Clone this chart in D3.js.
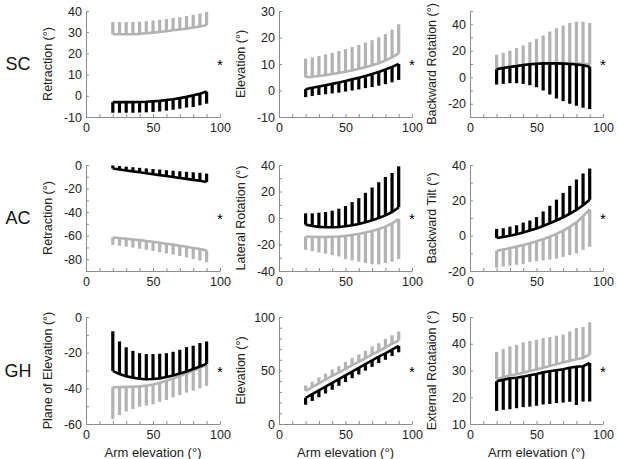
<!doctype html>
<html>
<head>
<meta charset="utf-8">
<style>
body { margin:0; background:#fff; }
svg { font-family: "Liberation Sans", Arial, sans-serif; }
</style>
<script src="https://d3js.org/d3.v7.min.js"></script>
</head>
<body>
<script>

// arm elevation samples
var armElev = [20, 25, 30, 35, 40, 45, 50, 55, 60, 65, 70, 75, 80, 85, 90];
var xTicks = [0, 50, 100];
var rowLabels = ['SC', 'AC', 'GH'];

// SC retraction
var scRetGray    = [29, 29, 29, 29, 29.2, 29.5, 29.8, 30.1, 30.5, 30.9, 31.3, 31.7, 32.2, 32.7, 33.3];
var scRetGrayErr = [5.8, 5.8, 5.8, 5.8, 5.8, 5.7, 5.7, 5.7, 5.7, 5.8, 5.8, 5.9, 6, 6.1, 6.2];
var scRetBlack    = [-3, -3, -3, -3, -2.9, -2.8, -2.6, -2.4, -2.0, -1.6, -1.1, -0.5, 0.2, 1.0, 2.0];
var scRetBlackErr = [5, 5, 5, 5, 5, 5, 5, 5, 5, 5, 5, 5, 5.5, 5.5, 5.7];

// SC elevation
var scElvGray    = [5, 5.2, 5.5, 5.8, 6.2, 6.6, 7.1, 7.6, 8.2, 8.8, 9.5, 10.3, 11.3, 12.5, 14];
var scElvGrayErr = [7, 7.3, 7.5, 7.8, 8, 8.3, 8.5, 8.8, 9, 9.3, 9.5, 9.8, 10, 10.5, 11];
var scElvBlack    = [0.5, 1, 1.5, 2, 2.5, 3, 3.6, 4.2, 4.8, 5.5, 6.2, 7, 7.9, 8.9, 10];
var scElvBlackErr = [3, 3.1, 3.2, 3.4, 3.6, 3.8, 4, 4.2, 4.4, 4.6, 4.9, 5.2, 5.5, 5.8, 6];

// SC backward rotation
var scRotGray    = [6.5, 7.3, 8, 8.7, 9.3, 9.8, 10.2, 10.5, 10.7, 10.8, 10.8, 10.7, 10.5, 10.2, 9.5];
var scRotGrayErr = [10.5, 11.2, 12, 13.3, 14.7, 16.7, 18.8, 21, 23.8, 26.2, 28.2, 30.3, 31.5, 31.8, 31.5];
var scRotBlack    = [6, 7, 7.8, 8.5, 9.2, 9.8, 10.2, 10.5, 10.6, 10.5, 10.3, 10, 9.6, 9.1, 8];
var scRotBlackErr = [11.5, 12, 12.3, 13, 14.2, 15.8, 17.7, 20.5, 23.6, 26.5, 28.3, 30, 31.1, 32.1, 32];

// AC retraction
var acRetBlack    = [-3, -3.8, -4.6, -5.4, -6.2, -7, -7.8, -8.6, -9.4, -10.2, -11, -11.8, -12.6, -13.4, -14.5];
var acRetBlackErr = [2.6, 2.9, 3.2, 3.5, 3.8, 4.1, 4.4, 4.7, 5, 5.3, 5.7, 6, 6.4, 6.8, 7.2];
var acRetGray    = [-61.5, -62, -62.6, -63.2, -63.8, -64.5, -65.2, -66, -66.8, -67.6, -68.5, -69.4, -70.4, -71.4, -72.5];
var acRetGrayErr = [6.3, 6.5, 6.7, 7, 7.3, 7.5, 7.8, 8, 8.3, 8.6, 8.8, 9.1, 9.4, 9.7, 10];

// AC lateral rotation
var acLatBlack    = [-5, -6, -6.7, -7, -7, -6.8, -6.2, -5.5, -4.5, -3.2, -1.7, 0, 2, 4.5, 8];
var acLatBlackErr = [8.5, 9.5, 10.7, 11.5, 12.5, 13.8, 15.2, 17.5, 19.5, 22.2, 24.7, 27, 29, 29.5, 31];
var acLatGray    = [-14, -14.2, -14.3, -14.3, -14.2, -14, -13.5, -12.8, -12, -11, -9.8, -8.3, -6.5, -4, -0.8];
var acLatGrayErr = [10, 10.8, 11.7, 12.7, 13.8, 15, 17.5, 19.2, 21, 23, 25.2, 26.7, 27.5, 29, 30.2];

// AC backward tilt
var acTiltBlack    = [-1.3, -0.8, 0, 0.8, 1.8, 2.9, 4.1, 5.5, 7, 8.6, 10.4, 12.4, 14.6, 17.2, 20.3];
var acTiltBlackErr = [5.1, 5, 5.1, 5.1, 5.6, 5.7, 6.4, 8.2, 9.9, 11.8, 13.8, 15.8, 17.2, 18, 17.7];
var acTiltGray    = [-8.6, -7.8, -7, -6.2, -5.3, -4.3, -3.2, -2, -0.6, 1, 2.8, 5, 7.5, 11, 14.9];
var acTiltGrayErr = [9.5, 9.7, 10, 10.3, 10.7, 10.6, 11.3, 12, 12.9, 14, 14.8, 16, 17.5, 19, 21.2];

// GH plane of elevation
var ghPlaneBlack    = [-30.2, -32, -33.2, -34, -34.6, -34.9, -34.8, -34.4, -33.7, -32.8, -31.7, -30.5, -29.2, -27.8, -26.3];
var ghPlaneBlackErr = [22.2, 18.3, 16.2, 15, 14.3, 14.1, 14, 13.8, 13.4, 13.3, 13.3, 13.6, 13.1, 13.2, 12.6];
var ghPlaneGray    = [-39.4, -39.3, -39.2, -39.1, -38.9, -38.5, -37.8, -36.9, -35.8, -34.5, -33.1, -31.6, -30.1, -28.5, -26.8];
var ghPlaneGrayErr = [17.8, 15.7, 13.8, 12.5, 11.4, 11.2, 11.2, 10.6, 10.7, 10.5, 10.6, 10.8, 11.2, 11.5, 11.8];

// GH elevation
var ghElvGray    = [31, 34.5, 38, 41.5, 45, 48, 51.5, 55, 58, 61.5, 65, 68, 71.5, 75, 78];
var ghElvGrayErr = [5, 5, 5.5, 5.5, 6, 6, 6.5, 6.5, 7, 7, 7.5, 7.5, 8, 8, 8.5];
var ghElvBlack    = [24.5, 28, 31.5, 35, 38.5, 42, 45.5, 49, 52.5, 56, 59.5, 63, 66, 69.5, 73];
var ghElvBlackErr = [6.5, 6.5, 6.5, 6.5, 6.5, 6.3, 6.3, 6.2, 6.2, 6.1, 6.1, 6, 6, 6, 6];

// GH external rotation
var ghExtGray    = [26.8, 27.5, 28.2, 28.6, 29.2, 29.8, 30.4, 31, 31.7, 32.3, 33, 33.6, 34.2, 34.7, 36];
var ghExtGrayErr = [10.1, 10.5, 10.8, 11, 11.3, 11.2, 11.1, 11.1, 10.8, 10.7, 10.4, 11, 11.7, 11.6, 12];
var ghExtBlack    = [26, 26.5, 27.1, 27.3, 27.7, 28.2, 28.7, 29.3, 29.7, 30.1, 30.5, 31, 31.4, 31.6, 32.8];
var ghExtBlackErr = [11.1, 11.2, 11.6, 11.4, 11.4, 11.7, 11.9, 12, 12.2, 12.3, 12.5, 12.7, 14.3, 13.2, 14.4];

// panel setup: label, y domain, y ticks, series [mean, err, colour, direction]
var panels = [
  {row:0, col:0, label:'Retraction (°)', dom:[-10, 40], ticks:[-10, 0, 10, 20, 30, 40],
   series:[[scRetGray, scRetGrayErr, 'gray', 1], [scRetBlack, scRetBlackErr, 'black', -1]]},
  {row:0, col:1, label:'Elevation (°)', dom:[-10, 30], ticks:[-10, 0, 10, 20, 30],
   series:[[scElvGray, scElvGrayErr, 'gray', 1], [scElvBlack, scElvBlackErr, 'black', -1]]},
  {row:0, col:2, label:'Backward Rotation (°)', dom:[-30, 50], ticks:[-20, 0, 20, 40],
   series:[[scRotGray, scRotGrayErr, 'gray', 1], [scRotBlack, scRotBlackErr, 'black', -1]]},
  {row:1, col:0, label:'Retraction (°)', dom:[-90, 0], ticks:[-80, -60, -40, -20, 0],
   series:[[acRetGray, acRetGrayErr, 'gray', -1], [acRetBlack, acRetBlackErr, 'black', 1]]},
  {row:1, col:1, label:'Lateral Rotation (°)', dom:[-40, 40], ticks:[-40, -20, 0, 20, 40],
   series:[[acLatGray, acLatGrayErr, 'gray', -1], [acLatBlack, acLatBlackErr, 'black', 1]]},
  {row:1, col:2, label:'Backward Tilt (°)', dom:[-20, 40], ticks:[-20, 0, 20, 40],
   series:[[acTiltGray, acTiltGrayErr, 'gray', -1], [acTiltBlack, acTiltBlackErr, 'black', 1]]},
  {row:2, col:0, label:'Plane of Elevation (°)', dom:[-60, 0], ticks:[-60, -40, -20, 0],
   series:[[ghPlaneGray, ghPlaneGrayErr, 'gray', -1], [ghPlaneBlack, ghPlaneBlackErr, 'black', 1]]},
  {row:2, col:1, label:'Elevation (°)', dom:[0, 100], ticks:[0, 50, 100],
   series:[[ghElvGray, ghElvGrayErr, 'gray', 1], [ghElvBlack, ghElvBlackErr, 'black', -1]]},
  {row:2, col:2, label:'External Rotataion (°)', dom:[10, 50], ticks:[10, 20, 30, 40, 50],
   series:[[ghExtGray, ghExtGrayErr, 'gray', 1], [ghExtBlack, ghExtBlackErr, 'black', -1]]}
];

var colX = [[86, 220], [279, 412], [470, 603]];
var rowY = [[11, 117], [165, 271], [317, 424]];
var colours = {gray:'#b3b3b3', black:'#000'};

var svg = d3.select('body').append('svg')
  .attr('width', 618)
  .attr('height', 459);

rowLabels.forEach(function(t, i) {
  svg.append('text')
    .attr('x', 18).attr('y', (rowY[i][0] + rowY[i][1]) / 2)
    .attr('dy', '0.35em')
    .attr('text-anchor', 'middle')
    .attr('font-size', 18)
    .attr('fill', '#111')
    .text(t);
});

panels.forEach(function(p) {
  var x0 = colX[p.col][0], x1 = colX[p.col][1];
  var yb = rowY[p.row][1], yt = rowY[p.row][0];
  var x = d3.scaleLinear().domain([0, 100]).range([x0, x1]);
  var y = d3.scaleLinear().domain(p.dom).range([yb, yt]);
  var g = svg.append('g');

  // axes, matlab style ticks pointing inward
  var xAxis = d3.axisBottom(x).tickValues(d3.range(0, 101, 10))
    .tickSizeInner(-3).tickSizeOuter(0).tickFormat(function(d) { return xTicks.indexOf(d) >= 0 ? d : ''; });
  var yAxis = d3.axisLeft(y).tickValues(d3.range(p.dom[0], p.dom[1] + 0.1, 10))
    .tickSizeInner(-3).tickSizeOuter(0).tickFormat(function(d) { return p.ticks.indexOf(d) >= 0 ? d : ''; });

  var gx = g.append('g').attr('transform', 'translate(0,' + yb + ')').call(xAxis);
  var gy = g.append('g').attr('transform', 'translate(' + x0 + ',0)').call(yAxis);
  [gx, gy].forEach(function(a) {
    a.select('.domain').attr('stroke', '#8c8c8c');
    a.selectAll('.tick line').attr('stroke', '#8c8c8c');
    a.selectAll('.tick text').attr('font-size', 12.5).attr('fill', '#222')
      .attr('font-family', '"Liberation Sans", Arial, sans-serif');
  });
  gx.selectAll('.tick text').attr('y', 6);
  gy.selectAll('.tick text').attr('x', -4);

  // mean lines + one-sided error bars
  p.series.forEach(function(s) {
    var mean = s[0], err = s[1], c = colours[s[2]], dir = s[3];
    g.selectAll(null).data(armElev).enter().append('line')
      .attr('x1', function(d) { return x(d); })
      .attr('x2', function(d) { return x(d); })
      .attr('y1', function(d, i) { return y(mean[i]); })
      .attr('y2', function(d, i) { return y(mean[i] + dir * err[i]); })
      .attr('stroke', c)
      .attr('stroke-width', 3.2);
    g.append('path')
      .datum(armElev)
      .attr('d', d3.line().x(function(d) { return x(d); }).y(function(d, i) { return y(mean[i]); }))
      .attr('fill', 'none')
      .attr('stroke', c)
      .attr('stroke-width', 2.6);
  });

  g.append('text')
    .attr('transform', 'translate(' + (x0 - 38) + ',' + ((yt + yb) / 2) + ') rotate(-90)')
    .attr('dy', '0.35em')
    .attr('text-anchor', 'middle')
    .attr('font-size', 12.5)
    .attr('fill', '#222')
    .text(p.label);

  g.append('text')
    .attr('x', x1).attr('y', (yt + yb) / 2 + 6)
    .attr('text-anchor', 'middle')
    .attr('font-size', 15)
    .attr('fill', '#000')
    .text('*');

  if (p.row === 2) {
    g.append('text')
      .attr('x', (x0 + x1) / 2).attr('y', yb + 33)
      .attr('text-anchor', 'middle')
      .attr('font-size', 13)
      .attr('fill', '#222')
      .text('Arm elevation (°)');
  }
});

</script>
</body>
</html>
